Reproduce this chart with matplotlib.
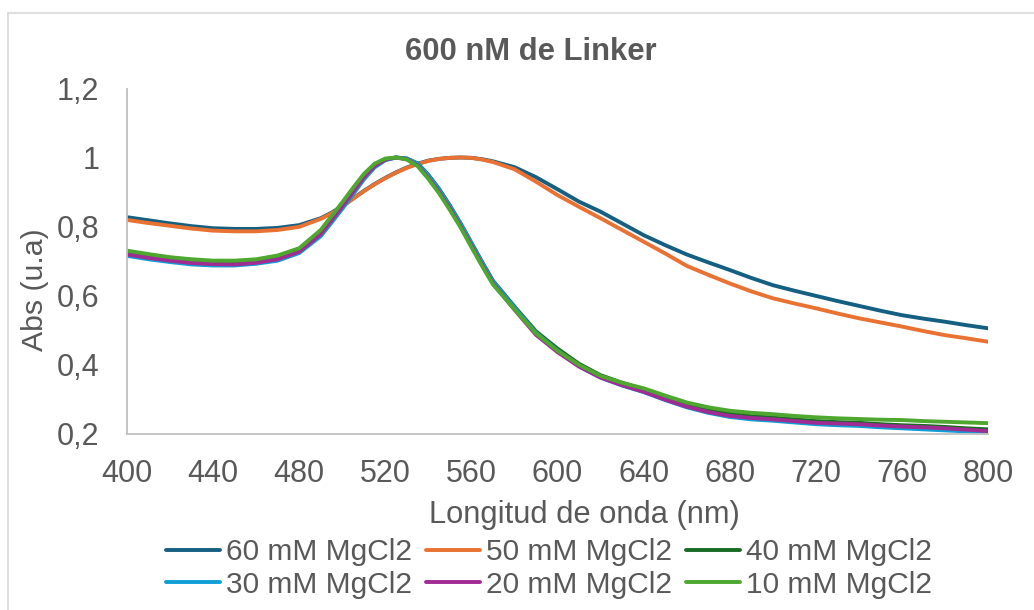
import matplotlib
matplotlib.use("Agg")
import matplotlib.pyplot as plt
from matplotlib.lines import Line2D

plt.rcParams['font.family'] = ['Liberation Sans', 'DejaVu Sans']

wavelength = [400, 410, 420, 430, 440, 450, 460, 470, 480,
              490, 495, 500, 505, 510, 515, 520, 525, 530, 535, 540, 545, 550, 555, 560, 565, 570,
              580, 590, 600, 610, 620, 630, 640, 650, 660, 670, 680, 690, 700,
              710, 720, 730, 740, 750, 760, 770, 780, 790, 800]

mg60 = [0.827, 0.818, 0.809, 0.801, 0.795, 0.793, 0.793, 0.796, 0.804,
        0.824, 0.840, 0.859, 0.881, 0.903, 0.923, 0.941, 0.957, 0.971, 0.982, 0.991, 0.996, 0.999, 1.000, 0.999, 0.995, 0.989,
        0.972, 0.943, 0.908, 0.872, 0.843, 0.809, 0.775, 0.746, 0.719, 0.696, 0.674, 0.651, 0.630,
        0.614, 0.599, 0.584, 0.570, 0.556, 0.543, 0.533, 0.524, 0.514, 0.505]

mg50 = [0.819, 0.810, 0.802, 0.794, 0.788, 0.786, 0.786, 0.790, 0.799,
        0.822, 0.838, 0.858, 0.880, 0.902, 0.922, 0.940, 0.956, 0.970, 0.981, 0.990, 0.996, 0.999, 1.000, 0.999, 0.994, 0.987,
        0.966, 0.930, 0.891, 0.857, 0.824, 0.790, 0.756, 0.722, 0.686, 0.660, 0.635, 0.612, 0.592,
        0.577, 0.563, 0.548, 0.534, 0.522, 0.510, 0.497, 0.485, 0.476, 0.466]

mg40 = [0.725, 0.715, 0.706, 0.699, 0.696, 0.696, 0.700, 0.710, 0.732,
        0.782, 0.822, 0.862, 0.904, 0.945, 0.978, 0.995, 1.000, 0.997, 0.983, 0.950, 0.909, 0.861, 0.809, 0.753, 0.697, 0.643,
        0.568, 0.496, 0.446, 0.402, 0.369, 0.347, 0.328, 0.304, 0.284, 0.268, 0.257, 0.250, 0.246,
        0.241, 0.236, 0.233, 0.231, 0.227, 0.224, 0.222, 0.219, 0.215, 0.212]

mg30 = [0.715, 0.705, 0.697, 0.690, 0.687, 0.687, 0.692, 0.701, 0.723,
        0.772, 0.811, 0.851, 0.893, 0.936, 0.971, 0.992, 1.000, 0.997, 0.982, 0.948, 0.907, 0.859, 0.807, 0.751, 0.695, 0.641,
        0.565, 0.492, 0.441, 0.395, 0.362, 0.339, 0.320, 0.297, 0.276, 0.260, 0.248, 0.241, 0.237,
        0.232, 0.227, 0.224, 0.222, 0.218, 0.215, 0.212, 0.209, 0.206, 0.203]

mg20 = [0.719, 0.709, 0.701, 0.694, 0.691, 0.690, 0.695, 0.705, 0.727,
        0.778, 0.818, 0.858, 0.900, 0.942, 0.975, 0.994, 1.000, 0.995, 0.977, 0.941, 0.900, 0.852, 0.800, 0.744, 0.688, 0.635,
        0.559, 0.486, 0.436, 0.394, 0.362, 0.340, 0.321, 0.298, 0.278, 0.262, 0.251, 0.245, 0.241,
        0.236, 0.231, 0.229, 0.227, 0.223, 0.220, 0.218, 0.215, 0.211, 0.207]

mg10 = [0.730, 0.720, 0.711, 0.705, 0.701, 0.701, 0.705, 0.716, 0.737,
        0.790, 0.830, 0.870, 0.912, 0.952, 0.982, 0.997, 1.000, 0.994, 0.975, 0.938, 0.896, 0.848, 0.797, 0.740, 0.685, 0.632,
        0.560, 0.490, 0.440, 0.399, 0.367, 0.347, 0.331, 0.310, 0.290, 0.276, 0.266, 0.260, 0.256,
        0.251, 0.247, 0.244, 0.242, 0.240, 0.239, 0.236, 0.234, 0.232, 0.230]

series_labels = ["60 mM MgCl2", "50 mM MgCl2", "40 mM MgCl2",
                 "30 mM MgCl2", "20 mM MgCl2", "10 mM MgCl2"]
series_values = [mg60, mg50, mg40, mg30, mg20, mg10]
colors = ["#156082", "#E97132", "#196B24", "#0F9ED5", "#A02B93", "#4EA72E"]

x_ticks = [400, 440, 480, 520, 560, 600, 640, 680, 720, 760, 800]
y_ticks = [0.2, 0.4, 0.6, 0.8, 1.0, 1.2]
y_tick_labels = ["0,2", "0,4", "0,6", "0,8", "1", "1,2"]

title = "600 nM de Linker"
xlabel = "Longitud de onda (nm)"
ylabel = "Abs (u.a)"

W, H = 1034, 610
fig = plt.figure(figsize=(W / 100, H / 100), dpi=100)
ax = fig.add_axes([127 / W, 1 - 433.5 / H, (988 - 127) / W, (433.5 - 88.5) / H])

txt = "#595959"
lines = []
for vals, lab, c in zip(series_values, series_labels, colors):
    ln, = ax.plot(wavelength, vals, color=c, lw=2.8, label=lab,
                  solid_capstyle='round', solid_joinstyle='round')
    lines.append(ln)

ax.set_xlim(400, 800)
ax.set_ylim(0.2, 1.2)
ax.set_xticks(x_ticks)
ax.set_xticklabels([str(v) for v in x_ticks])
ax.set_yticks(y_ticks)
ax.set_yticklabels(y_tick_labels)
ax.tick_params(axis='both', length=0, labelsize=22, colors=txt)
ax.tick_params(axis='y', pad=20)
ax.tick_params(axis='x', pad=18)
for s in ['top', 'right']:
    ax.spines[s].set_visible(False)
for s in ['left', 'bottom']:
    ax.spines[s].set_color('#bfbfbf')
    ax.spines[s].set_linewidth(1.3)

fig.text(531 / W, 1 - 52 / H, title, ha='center', va='center', fontsize=22.3,
         fontweight='bold', color=txt)
fig.text(584 / W, 1 - 515 / H, xlabel, ha='center', va='center', fontsize=22.2, color=txt)
fig.text(35 / W, 1 - 290 / H, ylabel, ha='center', va='center', fontsize=21.8,
         color=txt, rotation=90)

order = [0, 3, 1, 4, 2, 5]
leg = fig.legend([lines[i] for i in order], [series_labels[i] for i in order],
                 loc='center', bbox_to_anchor=(549 / W, 1 - 568.5 / H), ncol=3,
                 frameon=False, fontsize=21.5, handlelength=1.8, handletextpad=0.18,
                 columnspacing=0.5, labelspacing=0.15, borderpad=0, borderaxespad=0)
for t in leg.get_texts():
    t.set_color(txt)

fig.add_artist(Line2D([8 / W, 8 / W], [0, 1 - 13 / H], transform=fig.transFigure,
                      color='#d9d9d9', lw=1.2))
fig.add_artist(Line2D([8 / W, 1], [1 - 13 / H, 1 - 13 / H], transform=fig.transFigure,
                      color='#d9d9d9', lw=1.2))

fig.savefig("out.png", dpi=100)
